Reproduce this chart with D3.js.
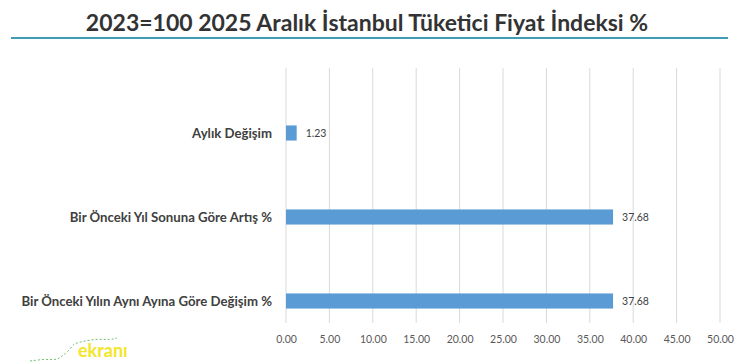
<!DOCTYPE html>
<html>
<head>
<meta charset="utf-8">
<script src="https://cdnjs.cloudflare.com/ajax/libs/d3/7.8.5/d3.min.js"></script>
<style>
  body { margin: 0; background: #fff; }
  svg { display: block; font-family: Lato, "Open Sans", sans-serif; }
</style>
</head>
<body>
<div class="box"></div>
<script>
// Chart data
const categories = ["Aylık Değişim", "Bir Önceki Yıl Sonuna Göre Artış %", "Bir Önceki Yılın Aynı Ayına Göre Değişim %"];
const values = [1.23, 37.68, 37.68];
const xTicks = [0, 5, 10, 15, 20, 25, 30, 35, 40, 45, 50];
const title = "2023=100 2025 Aralık İstanbul Tüketici Fiyat İndeksi %";

// svg box
const w = 752;
const h = 363;

const svg = d3.select(".box")
    .append("svg")
    .attr("width", w)
    .attr("height", h);

// scales
const xScale = d3.scaleLinear()
    .domain([0, 50])
    .range([286, 720]);

const yScale = d3.scaleBand()
    .domain(categories)
    .range([91, 343])
    .paddingInner(0.82)
    .paddingOuter(0.41);

// title + underline
svg.append("text")
    .attr("x", 367)
    .attr("y", 31)
    .attr("text-anchor", "middle")
    .style("font-size", "23px")
    .style("font-weight", "bold")
    .style("fill", "#333333")
    .text(title);

svg.append("line")
    .attr("x1", 11)
    .attr("x2", 728)
    .attr("y1", 38)
    .attr("y2", 38)
    .style("stroke", "#3f9db3")
    .style("stroke-width", 2);

// grid lines
svg.append("g")
    .selectAll("line")
    .data(xTicks)
    .enter()
    .append("line")
    .attr("x1", d => xScale(d))
    .attr("x2", d => xScale(d))
    .attr("y1", 68)
    .attr("y2", 323)
    .style("stroke", "#d9d9d9")
    .style("stroke-width", 1);

// x axis labels
const xAxis = d3.axisBottom(xScale)
    .tickValues(xTicks)
    .tickFormat(d3.format(".2f"))
    .tickSize(0)
    .tickPadding(0);

const gx = svg.append("g")
    .attr("transform", "translate(0,336)")
    .call(xAxis);
gx.select(".domain").remove();
gx.selectAll("text")
    .style("font-family", "Lato, sans-serif")
    .style("font-size", "10.5px")
    .style("fill", "#595959");

// category labels
svg.append("g")
    .selectAll("text")
    .data(categories)
    .enter()
    .append("text")
    .attr("x", 272)
    .attr("y", d => yScale(d) + yScale.bandwidth() / 2)
    .attr("dy", "0.35em")
    .attr("text-anchor", "end")
    .style("font-size", "13.2px")
    .style("font-weight", "bold")
    .style("fill", "#404040")
    .text(d => d);

// bars
svg.selectAll("rect.bar")
    .data(values)
    .enter()
    .append("rect")
    .attr("class", "bar")
    .attr("x", xScale(0))
    .attr("y", (d, i) => yScale(categories[i]))
    .attr("width", d => xScale(d) - xScale(0))
    .attr("height", yScale.bandwidth())
    .style("fill", "#5b9bd5");

// value labels
svg.selectAll("text.val")
    .data(values)
    .enter()
    .append("text")
    .attr("class", "val")
    .attr("x", d => xScale(d) + 9)
    .attr("y", (d, i) => yScale(categories[i]) + yScale.bandwidth() / 2)
    .attr("dy", "0.35em")
    .style("font-size", "10.5px")
    .style("fill", "#404040")
    .text(d => d3.format(".2f")(d));

// little logo bottom-left
const logoPts = [[30, 361], [45, 359], [55, 360], [60, 358], [62, 356], [70, 350], [73, 344], [80, 342], [90, 340], [100, 339], [110, 340], [117, 338]];
svg.append("path")
    .attr("d", d3.line().curve(d3.curveBasis)(logoPts))
    .style("fill", "none")
    .style("stroke", "#4caf50")
    .style("stroke-width", 0.8)
    .style("stroke-dasharray", "2,2");
svg.append("text")
    .attr("x", 78)
    .attr("y", 357)
    .style("font-size", "18px")
    .style("font-weight", "bold")
    .style("fill", "#f2e52a")
    .text("ekranı");
</script>
</body>
</html>
